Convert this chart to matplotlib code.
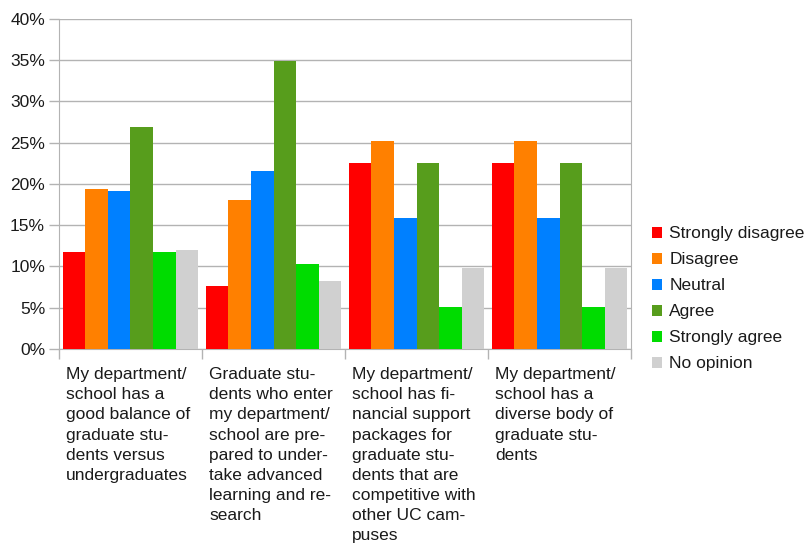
import numpy as np
import matplotlib.pyplot as plt
from matplotlib.ticker import PercentFormatter

plt.rcParams['font.family'] = ['Liberation Sans', 'DejaVu Sans']

categories = [
    "My department/\nschool has a\ngood balance of\ngraduate stu-\ndents versus\nundergraduates",
    "Graduate stu-\ndents who enter\nmy department/\nschool are pre-\npared to under-\ntake advanced\nlearning and re-\nsearch",
    "My department/\nschool has fi-\nnancial support\npackages for\ngraduate stu-\ndents that are\ncompetitive with\nother UC cam-\npuses",
    "My department/\nschool has a\ndiverse body of\ngraduate stu-\ndents",
]
series = ["Strongly disagree", "Disagree", "Neutral", "Agree", "Strongly agree", "No opinion"]
strongly_disagree = [11.7, 7.6, 22.5, 22.5]
disagree = [19.4, 18.1, 25.2, 25.2]
neutral = [19.2, 21.6, 15.9, 15.9]
agree = [26.9, 34.9, 22.5, 22.5]
strongly_agree = [11.7, 10.3, 5.1, 5.1]
no_opinion = [12.0, 8.3, 9.8, 9.8]
values = [strongly_disagree, disagree, neutral, agree, strongly_agree, no_opinion]
colors = ['#ff0000', '#ff8000', '#0080ff', '#579d1c', '#00dc00', '#d0d0d0']

fig = plt.figure(figsize=(8.08, 5.49), dpi=100)
ax = fig.add_axes([0.073, 0.3643, 0.708, 0.6011])

x = np.arange(len(categories))
w = 0.158
for i, (name, vals) in enumerate(zip(series, values)):
    ax.bar(x + (i - 2.5) * w, vals, w, color=colors[i], label=name, zorder=3)

ax.set_xlim(-0.5, 3.5)
ax.set_ylim(0, 40)
ax.set_yticks(np.arange(0, 41, 5))
ax.yaxis.set_major_formatter(PercentFormatter(decimals=0))
ax.set_xticks(np.arange(-0.5, 3.6, 1))
ax.set_xticklabels([])
ax.grid(axis='y', color='#b3b3b3', linewidth=1, zorder=0)
for s in ['left', 'bottom', 'right']:
    ax.spines[s].set_color('#b3b3b3')
ax.spines['top'].set_visible(False)
ax.tick_params(axis='both', color='#b3b3b3', length=7, width=1)
ax.tick_params(axis='y', labelsize=12.5, labelcolor='#1a1a1a', pad=3)

# category labels, left-aligned just inside each group
for xi, lab in zip(x, categories):
    ax.text(xi - 0.45, -2.2, lab, ha='left', va='top', fontsize=12.5, color='#1a1a1a',
            linespacing=1.43)

leg = ax.legend(loc='center left', bbox_to_anchor=(1.0, 0.152), frameon=False,
                fontsize=12.5, handlelength=0.6, handleheight=0.6,
                handletextpad=0.4, labelspacing=0.63, borderaxespad=0.8)
for t in leg.get_texts():
    t.set_color('#1a1a1a')

fig.savefig('out.png', dpi=100)
